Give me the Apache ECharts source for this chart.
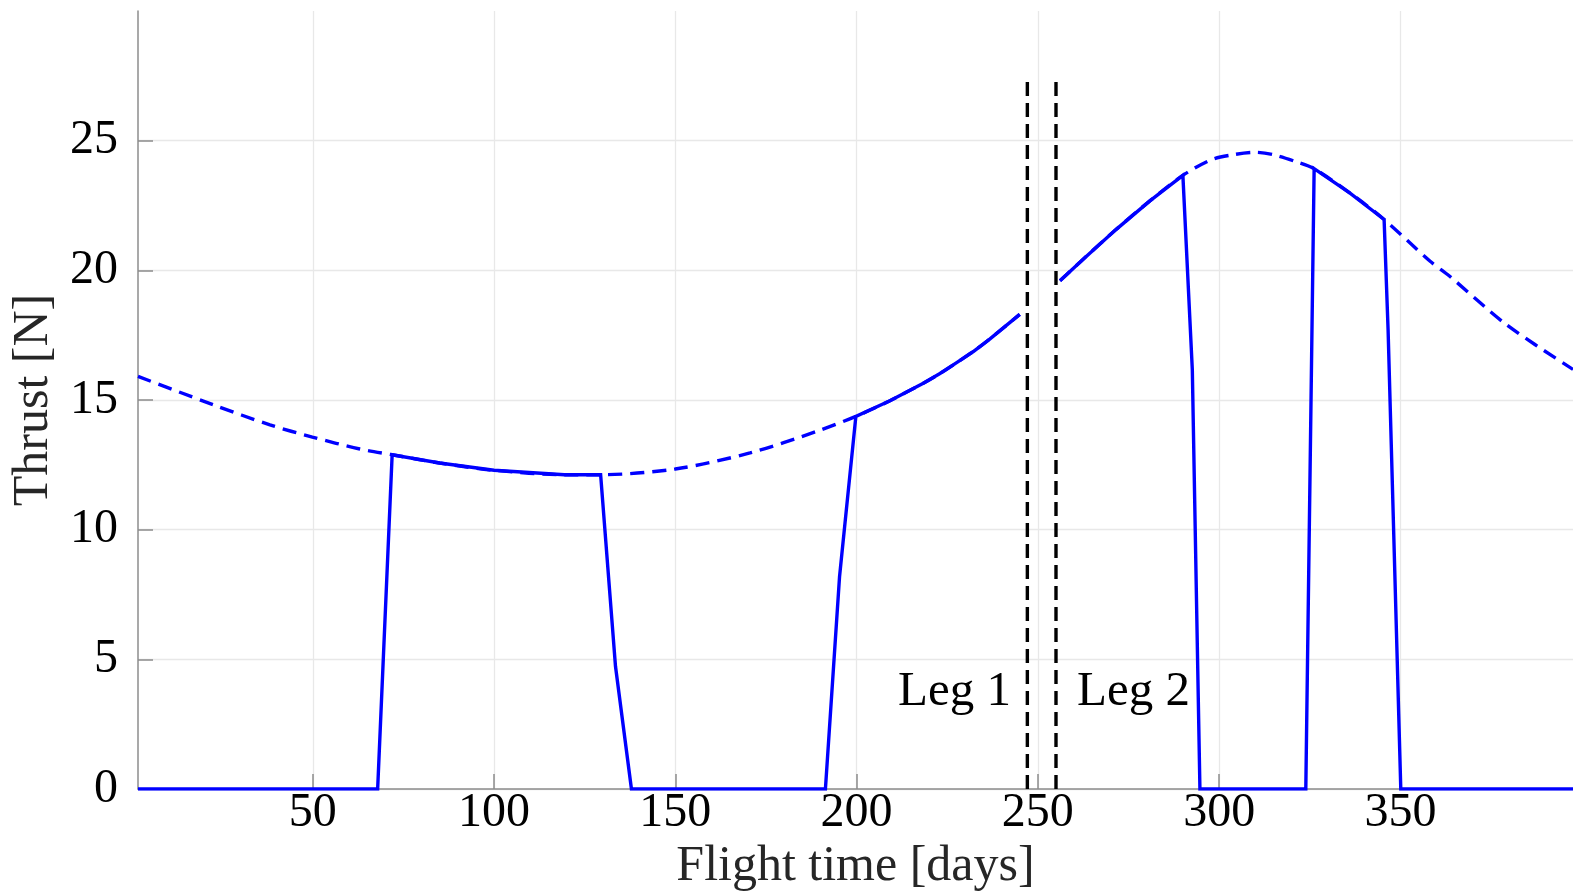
<!DOCTYPE html>
<html><head><meta charset="utf-8">
<script src="https://cdn.jsdelivr.net/npm/echarts@6/dist/echarts.min.js"></script>
<style>html,body{margin:0;padding:0;background:#fff}#c{width:1573px;height:892px}</style>
</head><body><div id="c"></div>
<script>
// Tick values
const xTicks = [50, 100, 150, 200, 250, 300, 350];
const yTicks = [0, 5, 10, 15, 20, 25];

// Leg 1: maximum available thrust (dashed)
const leg1MaxT = [1.8, 22.5, 38.2, 49.9, 63, 71.9, 85, 100, 119.4, 129.4, 150, 170.6, 189, 199.8, 209.2, 218.4, 223, 227.6, 232.2, 236.8, 245.0];
const leg1MaxV = [15.91, 14.82, 14.04, 13.57, 13.11, 12.89, 12.57, 12.29, 12.12, 12.12, 12.34, 12.96, 13.79, 14.37, 14.97, 15.65, 16.02, 16.44, 16.87, 17.36, 18.30];
// Leg 1: applied thrust (solid)
const leg1ThrT = [1.8, 67.9, 71.9, 85, 100, 119.4, 129.4, 133.5, 137.9, 191.4, 195.3, 199.8, 209.2, 218.4, 223, 227.6, 232.2, 236.8, 245.0];
const leg1ThrV = [0, 0, 12.89, 12.57, 12.29, 12.12, 12.12, 4.73, 0, 0, 8.19, 14.37, 14.97, 15.65, 16.02, 16.44, 16.87, 17.36, 18.30];

// Leg 2: maximum available thrust (dashed)
const leg2MaxT = [256.1, 262.5, 271.7, 280.9, 290.0, 297.9, 303.9, 309.9, 314.9, 321.4, 326.2, 336.1, 345.5, 358.2, 363.6, 379.2, 397.6];
const leg2MaxV = [19.6, 20.43, 21.59, 22.68, 23.66, 24.27, 24.46, 24.55, 24.46, 24.18, 23.92, 22.98, 21.96, 20.35, 19.77, 17.91, 16.18];
// Leg 2: applied thrust (solid)
const leg2ThrT = [256.1, 262.5, 271.7, 280.9, 290.0, 292.6, 294.7, 323.9, 326.2, 336.1, 345.5, 346.6, 350.1, 397.6];
const leg2ThrV = [19.6, 20.43, 21.59, 22.68, 23.66, 16.17, 0, 0, 23.92, 22.98, 21.96, 17.7, 0, 0];

// Leg boundaries (vertical dashed lines)
const legBoundaries = [247.1, 255.0];
const boundaryTop = 27.35;
const legNames = ['Leg 1', 'Leg 2'];

const zip = (t, v) => t.map((x, i) => [x, v[i]]);
const BLUE = '#0000ff';
const FONT = '"Liberation Serif", "DejaVu Serif", serif';

const chart = echarts.init(document.getElementById('c'), null, {renderer: 'canvas'});

const series = [
  {type: 'line', data: zip(leg1MaxT, leg1MaxV), smooth: 0.3, showSymbol: false, z: 2,
   lineStyle: {color: BLUE, width: 3.4, type: [14, 8]}},
  {type: 'line', data: zip(leg2MaxT, leg2MaxV), smooth: 0.3, showSymbol: false, z: 2,
   lineStyle: {color: BLUE, width: 3.4, type: [14, 8]}},
  {type: 'line', data: zip(leg1ThrT, leg1ThrV), showSymbol: false, z: 3,
   lineStyle: {color: BLUE, width: 3.4, join: 'miter'}},
  {type: 'line', data: zip(leg2ThrT, leg2ThrV), showSymbol: false, z: 3,
   lineStyle: {color: BLUE, width: 3.4, join: 'miter'}}
];
legBoundaries.forEach(b => {
  series.push({type: 'line', data: [[b, 0], [b, boundaryTop]], showSymbol: false, z: 4,
    lineStyle: {color: '#000', width: 3.4, type: [14, 7]}});
});
series.push({
  type: 'scatter', symbolSize: 0, z: 5,
  itemStyle: {opacity: 1},
  data: [
    {name: legNames[0], value: [242.6, 3.75], label: {position: 'left'}},
    {name: legNames[1], value: [260.8, 3.75], label: {position: 'right'}}
  ],
  label: {show: true, formatter: p => p.name, distance: 0, color: '#000', opacity: 1,
          fontFamily: FONT, fontSize: 49}
});

chart.setOption({
  animation: false,
  backgroundColor: '#fff',
  grid: {left: 138, right: 0, top: 11, bottom: 103, containLabel: false, outerBoundsMode: 'none'},
  xAxis: {
    type: 'value', min: 1.8, max: 397.6,
    name: 'Flight time [days]', nameLocation: 'middle', nameGap: 43,
    nameTextStyle: {fontFamily: FONT, fontSize: 50, color: '#262626'},
    axisLine: {show: true, onZero: false, lineStyle: {color: '#8c8c8c', width: 1.5}},
    axisTick: {show: true, inside: true, length: 15, customValues: xTicks, lineStyle: {color: '#8c8c8c', width: 1.5}},
    axisLabel: {customValues: xTicks, margin: 0, color: '#000', fontFamily: FONT, fontSize: 48},
    splitLine: {show: true, lineStyle: {color: '#e8e8e8', width: 1.3}}
  },
  yAxis: {
    type: 'value', min: 0, max: 30,
    name: 'Thrust [N]', nameLocation: 'middle', nameGap: 74,
    nameTextStyle: {fontFamily: FONT, fontSize: 50, color: '#262626'},
    axisLine: {show: true, lineStyle: {color: '#8c8c8c', width: 1.5}},
    axisTick: {show: true, inside: true, length: 15, customValues: yTicks, lineStyle: {color: '#8c8c8c', width: 1.5}},
    axisLabel: {customValues: yTicks, margin: 20, color: '#000', fontFamily: FONT, fontSize: 48},
    splitLine: {show: true, lineStyle: {color: '#e8e8e8', width: 1.3}}
  },
  series: series
});
</script></body></html>
